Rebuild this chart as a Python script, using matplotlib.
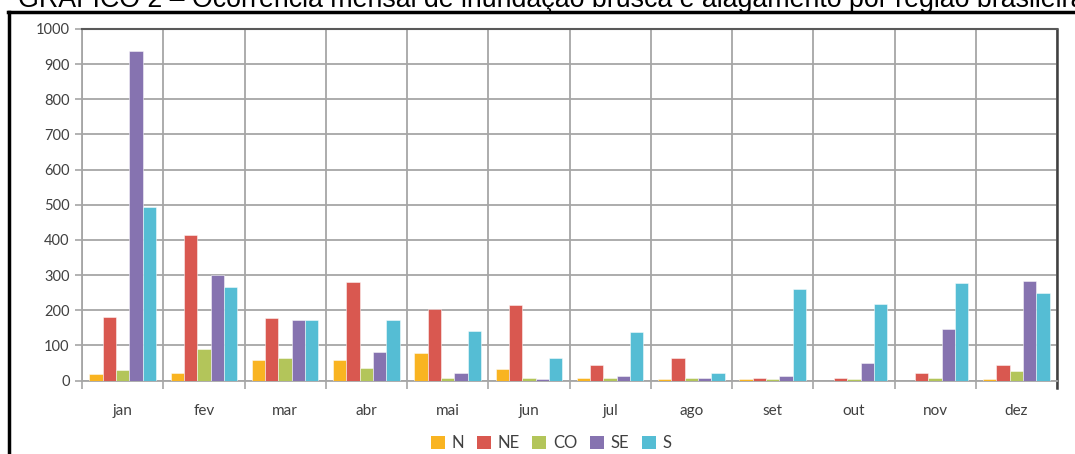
import numpy as np
import matplotlib.pyplot as plt
from matplotlib.lines import Line2D
from matplotlib.patches import Patch

# Dados: ocorrências mensais por região
meses = ['jan', 'fev', 'mar', 'abr', 'mai', 'jun', 'jul', 'ago', 'set', 'out', 'nov', 'dez']
regioes = ['N', 'NE', 'CO', 'SE', 'S']
n_vals = [18, 22, 58, 58, 77, 32, 8, 3, 3, 0, 0, 4]
ne_vals = [181, 414, 177, 281, 203, 214, 45, 63, 8, 8, 22, 45]
co_vals = [31, 90, 63, 36, 8, 8, 8, 8, 4, 4, 8, 27]
se_vals = [938, 300, 172, 82, 22, 4, 13, 8, 13, 49, 146, 282]
s_vals = [493, 265, 172, 172, 140, 63, 137, 22, 259, 218, 277, 250]
series = [n_vals, ne_vals, co_vals, se_vals, s_vals]
cores = ['#F9B421', '#D95850', '#B3C55A', '#8673B0', '#55BDD4']

W, H = 1075, 454
fig = plt.figure(figsize=(W / 100, H / 100), dpi=100)
ax = fig.add_axes([82 / W, (H - 380.5) / H, (1057 - 82) / W, (380.5 - 29) / H])

x = np.arange(len(meses))
largura = 0.164
for i, vals in enumerate(series):
    ax.bar(x + (i - 2) * largura, vals, largura, color=cores[i],
           edgecolor='#ffffff90', linewidth=0.6, zorder=3)

# Eixos e grade
ax.set_xlim(-0.5, 11.5)
ax.set_ylim(0, 1000)
ax.set_yticks(range(0, 1001, 100))
ax.set_xticks(x)
ax.set_xticklabels(meses)
ax.set_xticks(np.arange(-0.5, 12, 1), minor=True)
ax.grid(True, axis='y', color='#A6A6A6', linewidth=1.3, zorder=0)
ax.grid(True, axis='x', which='minor', color='#A6A6A6', linewidth=1.3, zorder=0)
ax.tick_params(axis='y', length=5, width=1.2, color='#A6A6A6', labelcolor='#404040',
               labelsize=10.5, pad=4)
ax.tick_params(axis='x', which='major', length=0, labelcolor='#404040', labelsize=11, pad=17)
ax.tick_params(axis='x', which='minor', length=6, width=1.2, color='#A6A6A6')
for lab in ax.get_xticklabels() + ax.get_yticklabels():
    lab.set_family('Lato')
for lado in ['left', 'bottom']:
    ax.spines[lado].set_color('#A6A6A6')
    ax.spines[lado].set_linewidth(1.3)
ax.spines['top'].set_color('#595959')
ax.spines['top'].set_linewidth(1.5)
ax.spines['right'].set_color('#404040')
ax.spines['right'].set_linewidth(1.8)
ax.spines['right'].set_bounds(-20, 1000)
ax.spines['right'].set_clip_on(False)

# Legenda
handles = [Patch(facecolor=c, edgecolor='none') for c in cores]
fig.legend(handles, regioes, loc='center', bbox_to_anchor=(551 / W, (H - 443) / H), ncol=5,
           frameon=False, handlelength=0.85, handleheight=0.85, handletextpad=0.4,
           columnspacing=0.75, prop={'family': 'Lato', 'size': 12}, labelcolor='#404040')

# Moldura e título cortado no topo
fig.add_artist(Line2D([9 / W, 9 / W], [0, 1 - 12 / H], color='black', linewidth=2.5))
fig.add_artist(Line2D([8 / W, 1], [1 - 12 / H, 1 - 12 / H], color='black', linewidth=2.5))
fig.text(18 / W, 1 - 7 / H,
         'GRÁFICO 2 – Ocorrência mensal de inundação brusca e alagamento por região brasileira',
         family='Liberation Sans', fontsize=19.3, va='baseline', ha='left', color='black')

fig.savefig('out.png', dpi=100)
